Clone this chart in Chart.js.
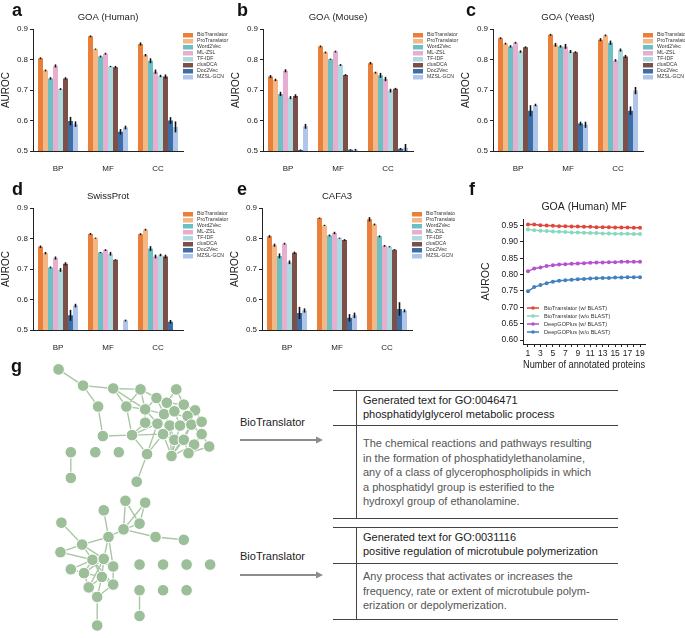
<!DOCTYPE html>
<html lang="en">
<head>
<meta charset="UTF-8">
<title>BioTranslator AUROC panels</title>
<script src="https://cdn.jsdelivr.net/npm/chart.js"></script>
<style>
    body { margin: 0; background: #fff; font-family: 'Liberation Sans', Arial, sans-serif; }
    #fig { position: relative; width: 685px; height: 638px; overflow: hidden; }
    canvas { position: absolute; }
    .letter { position: absolute; font-weight: bold; font-size: 18px; line-height: 1; color: #111; }
    .hline { position: absolute; height: 0; border-top: 1.2px solid #444; left: 333px; width: 285px; }
    .vline { position: absolute; width: 0; border-left: 1.2px solid #444; left: 356px; }
    .head { position: absolute; left: 363px; font-size: 11px; line-height: 14px; color: #1a1a1a; white-space: nowrap; }
    .body { position: absolute; left: 363px; font-size: 11px; line-height: 14.6px; color: #555; white-space: nowrap; }
    .tool { position: absolute; left: 240px; font-size: 11px; color: #222; }
    svg.arrow { position: absolute; left: 238px; }
</style>
</head>
<body>
<div id="fig">
    <canvas id="pa" width="230" height="175" style="left:0;top:0"></canvas>
    <canvas id="pb" width="230" height="175" style="left:230px;top:0"></canvas>
    <canvas id="pc" width="225" height="175" style="left:460px;top:0"></canvas>
    <canvas id="pd" width="229" height="175" style="left:0;top:179px"></canvas>
    <canvas id="pe" width="226" height="175" style="left:229px;top:179px"></canvas>
    <canvas id="pf" width="230" height="186" style="left:455px;top:185px"></canvas>
    <canvas id="pg" width="232" height="283" style="left:0;top:355px"></canvas>

    <div class="letter" style="left:12px;top:1px">a</div>
    <div class="letter" style="left:237px;top:1px">b</div>
    <div class="letter" style="left:466px;top:1px">c</div>
    <div class="letter" style="left:12px;top:180px">d</div>
    <div class="letter" style="left:237px;top:180px">e</div>
    <div class="letter" style="left:469px;top:180px">f</div>
    <div class="letter" style="left:11px;top:357px">g</div>

    <!-- text boxes of panel g -->
    <div class="hline" style="top:390px"></div>
    <div class="vline" style="top:390px;height:128px"></div>
    <div class="head" style="top:393px">Generated text for GO:0046471<br>phosphatidylglycerol metabolic process</div>
    <div class="hline" style="top:425px"></div>
    <div class="body" style="top:436px">The chemical reactions and pathways resulting<br>in the formation of phosphatidylethanolamine,<br>any of a class of glycerophospholipids in which<br>a phosphatidyl group is esterified to the<br>hydroxyl group of ethanolamine.</div>
    <div class="hline" style="top:518px"></div>
    <div class="tool" style="top:416px">BioTranslator</div>
    <svg class="arrow" width="90" height="10" style="top:435px"><line x1="2" y1="5" x2="80" y2="5" stroke="#8c8c8c" stroke-width="2"/><polygon points="78,1.5 85,5 78,8.5" fill="#8c8c8c"/></svg>

    <div class="hline" style="top:527px"></div>
    <div class="vline" style="top:527px;height:92px"></div>
    <div class="head" style="top:530px">Generated text for GO:0031116<br>positive regulation of microtubule polymerization</div>
    <div class="hline" style="top:563px"></div>
    <div class="body" style="top:569px">Any process that activates or increases the<br>frequency, rate or extent of microtubule polym-<br>erization or depolymerization.</div>
    <div class="hline" style="top:619px"></div>
    <div class="tool" style="top:550px">BioTranslator</div>
    <svg class="arrow" width="90" height="10" style="top:570px"><line x1="2" y1="5" x2="80" y2="5" stroke="#8c8c8c" stroke-width="2"/><polygon points="78,1.5 85,5 78,8.5" fill="#8c8c8c"/></svg>
</div>

<script>
    // ---- data ----
    const categories = ['BP', 'MF', 'CC'];
    const methods = ['BioTranslator', 'ProTranslator', 'Word2Vec', 'ML-ZSL', 'TF-IDF', 'clusDCA', 'Doc2Vec', 'MZSL-GCN'];
    const methodColors = ['#e8803c', '#f4b887', '#6bc0c6', '#e8aed0', '#add9e1', '#7c5048', '#3e6ea6', '#afc6ea'];
    const barTicks = [0.5, 0.6, 0.7, 0.8, 0.9];

    // AUROC per category (BP, MF, CC), one value per method
    const goaHuman = [
        [0.804, 0.764, 0.738, 0.779, 0.703, 0.738, 0.598, 0.588],
        [0.876, 0.834, 0.810, 0.819, 0.777, 0.775, 0.563, 0.577],
        [0.851, 0.814, 0.796, 0.760, 0.746, 0.744, 0.600, 0.579]
    ];
    const goaHumanErr = [
        [0.003, 0.003, 0.004, 0.005, 0.003, 0.004, 0.014, 0.009],
        [0.003, 0.002, 0.003, 0.003, 0.002, 0.004, 0.009, 0.006],
        [0.005, 0.004, 0.008, 0.007, 0.004, 0.007, 0.011, 0.018]
    ];
    const goaMouse = [
        [0.744, 0.733, 0.687, 0.763, 0.675, 0.680, 0.503, 0.581],
        [0.843, 0.823, 0.801, 0.826, 0.782, 0.749, 0.504, 0.504],
        [0.788, 0.757, 0.748, 0.736, 0.698, 0.704, 0.507, 0.511]
    ];
    const goaMouseErr = [
        [0.005, 0.004, 0.007, 0.005, 0.005, 0.006, 0.002, 0.008],
        [0.003, 0.003, 0.002, 0.003, 0.003, 0.003, 0.002, 0.003],
        [0.004, 0.003, 0.008, 0.007, 0.006, 0.003, 0.003, 0.012]
    ];
    const goaYeast = [
        [0.870, 0.852, 0.843, 0.855, 0.826, 0.840, 0.632, 0.651],
        [0.881, 0.848, 0.843, 0.843, 0.826, 0.824, 0.590, 0.586],
        [0.865, 0.879, 0.855, 0.797, 0.831, 0.810, 0.632, 0.698]
    ];
    const goaYeastErr = [
        [0.003, 0.003, 0.004, 0.003, 0.004, 0.003, 0.018, 0.004],
        [0.003, 0.006, 0.004, 0.008, 0.005, 0.003, 0.006, 0.010],
        [0.005, 0.003, 0.007, 0.004, 0.005, 0.005, 0.014, 0.012]
    ];
    const swissProt = [
        [0.773, 0.752, 0.705, 0.736, 0.697, 0.717, 0.548, 0.580],
        [0.815, 0.801, 0.754, 0.762, 0.750, 0.730, 0.500, 0.531],
        [0.814, 0.829, 0.767, 0.741, 0.746, 0.741, 0.527, 0.500]
    ];
    const swissProtErr = [
        [0.004, 0.004, 0.003, 0.005, 0.006, 0.005, 0.018, 0.006],
        [0.003, 0.002, 0.002, 0.003, 0.006, 0.002, 0.000, 0.003],
        [0.003, 0.003, 0.008, 0.006, 0.004, 0.006, 0.006, 0.000]
    ];
    const cafa3 = [
        [0.807, 0.778, 0.743, 0.783, 0.722, 0.753, 0.556, 0.564],
        [0.867, 0.843, 0.810, 0.818, 0.801, 0.795, 0.540, 0.548],
        [0.863, 0.846, 0.807, 0.776, 0.773, 0.763, 0.569, 0.563]
    ];
    const cafa3Err = [
        [0.004, 0.005, 0.008, 0.003, 0.006, 0.004, 0.020, 0.007],
        [0.002, 0.002, 0.003, 0.004, 0.002, 0.003, 0.012, 0.009],
        [0.007, 0.003, 0.003, 0.003, 0.002, 0.002, 0.022, 0.005]
    ];

    // panel f
    const annotatedProteins = [1, 2, 3, 4, 5, 6, 7, 8, 9, 10, 11, 12, 13, 14, 15, 16, 17, 18, 19];
    const bioWithBlast = [0.953, 0.953, 0.951, 0.950, 0.949, 0.948, 0.948, 0.947, 0.947, 0.946, 0.946, 0.945, 0.945, 0.945, 0.944, 0.944, 0.944, 0.943, 0.943];
    const bioNoBlast = [0.938, 0.936, 0.934, 0.933, 0.932, 0.931, 0.930, 0.929, 0.929, 0.928, 0.927, 0.927, 0.926, 0.926, 0.925, 0.925, 0.925, 0.924, 0.924];
    const deepWithBlast = [0.810, 0.819, 0.822, 0.826, 0.829, 0.831, 0.832, 0.833, 0.834, 0.835, 0.836, 0.837, 0.837, 0.838, 0.838, 0.839, 0.839, 0.839, 0.839];
    const deepNoBlast = [0.749, 0.762, 0.768, 0.774, 0.778, 0.781, 0.783, 0.784, 0.786, 0.787, 0.788, 0.789, 0.790, 0.790, 0.791, 0.791, 0.792, 0.792, 0.792];
    const lineLabels = ['BioTranslator (w/ BLAST)', 'BioTranslator (w/o BLAST)', 'DeepGOPlus (w/ BLAST)', 'DeepGOPlus (w/o BLAST)'];
    const lineColors = ['#e0473c', '#86d9bf', '#b552d1', '#4181bd'];
    const lineYTicks = [0.60, 0.65, 0.70, 0.75, 0.80, 0.85, 0.90, 0.95];

    // panel g: two gene networks (layout coordinates)
    const netNodes = [
        [55, 8], [81, 25], [113, 28], [142, 29], [97, 47], [127, 47], [147, 50], [147, 64],
        [102, 78], [133, 77], [149, 97], [138, 126], [68, 95], [68, 122], [94, 95], [119, 95],
        [159, 38], [167, 55], [178, 52], [188, 45], [200, 51], [180, 29], [170, 43], [192, 57],
        [173, 67], [184, 67], [196, 66], [207, 63], [160, 65], [166, 76], [178, 82], [188, 82],
        [199, 87], [207, 76], [215, 89], [193, 96], [175, 99],
        [126, 146], [147, 148], [103, 156], [58, 169], [124, 176], [141, 170], [108, 184], [158, 184],
        [188, 187], [80, 192], [57, 200], [91, 208], [103, 207], [68, 218], [82, 222], [113, 215],
        [101, 226], [113, 234], [87, 237], [96, 247], [96, 277],
        [141, 213], [166, 213], [191, 213], [216, 213], [141, 240], [166, 240], [191, 240], [141, 267]
    ];
    const netEdges = [
        [0, 1], [1, 2], [1, 4], [4, 8], [8, 9], [2, 3], [2, 5], [2, 6], [5, 3], [5, 6], [5, 9], [3, 16], [3, 6],
        [6, 16], [6, 17], [6, 7], [7, 9], [7, 28], [9, 29], [9, 10], [9, 28], [10, 11], [10, 29], [10, 28], [12, 13],
        [16, 22], [22, 18], [18, 19], [19, 20], [17, 18], [17, 24], [24, 25], [25, 26], [26, 27], [23, 20], [23, 25],
        [24, 29], [29, 30], [30, 31], [31, 32], [32, 33], [33, 26], [33, 34], [32, 35], [36, 30], [36, 29], [36, 31],
        [36, 25], [36, 24], [36, 26], [35, 31], [28, 24], [28, 17], [16, 17], [21, 19], [21, 22], [6, 28], [29, 25],
        [18, 25], [19, 23], [17, 23], [27, 20], [27, 33], [26, 31], [22, 19], [16, 18], [24, 30], [28, 29], [35, 34], [36, 32],
        [37, 41], [38, 42], [37, 42], [38, 41], [39, 43], [41, 42], [41, 43], [41, 44], [44, 45], [40, 46], [46, 43],
        [47, 46], [47, 48], [46, 48], [46, 49], [43, 49], [43, 52], [48, 49], [48, 51], [48, 53], [48, 52], [49, 52],
        [49, 53], [50, 51], [50, 48], [51, 55], [51, 53], [53, 54], [53, 55], [53, 56], [54, 56], [55, 56], [52, 54],
        [56, 57], [62, 65], [48, 54], [49, 55], [51, 49]
    ];

    Chart.defaults.font.family = "'Liberation Sans', Arial, sans-serif";
    Chart.defaults.color = '#222';

    // black error bars on top of the bars
    const errorBars = {
        id: 'errorBars',
        afterDatasetsDraw(chart, args, opts) {
            if (!opts.errors) return;
            const ctx = chart.ctx, y = chart.scales.y, area = chart.chartArea;
            ctx.save();
            ctx.beginPath();
            ctx.rect(area.left, area.top, area.right - area.left, area.bottom - area.top);
            ctx.clip();
            ctx.strokeStyle = '#111';
            ctx.lineWidth = 1.6;
            chart.data.datasets.forEach((ds, i) => {
                chart.getDatasetMeta(i).data.forEach((bar, j) => {
                    const e = opts.errors[j][i];
                    if (!e) return;
                    const v = ds.data[j];
                    ctx.beginPath();
                    ctx.moveTo(bar.x, y.getPixelForValue(v + e));
                    ctx.lineTo(bar.x, y.getPixelForValue(v - e));
                    ctx.stroke();
                });
            });
            ctx.restore();
        }
    };

    // compact legend next to / inside the plot area
    const sideLegend = {
        id: 'sideLegend',
        afterDraw(chart, args, o) {
            if (!o.display) return;
            const ctx = chart.ctx, a = chart.chartArea;
            ctx.save();
            ctx.font = o.fontSize + "px 'Liberation Sans', Arial, sans-serif";
            ctx.textBaseline = 'middle';
            chart.data.datasets.forEach((ds, i) => {
                const x = (o.fromLeft ? a.left : a.right) + o.dx;
                const y = (o.fromBottom ? a.bottom : a.top) + o.dy + i * o.row;
                const col = o.mode === 'line' ? ds.borderColor : ds.backgroundColor;
                if (o.mode === 'line') {
                    ctx.strokeStyle = col;
                    ctx.lineWidth = 1.5;
                    ctx.beginPath(); ctx.moveTo(x, y); ctx.lineTo(x + 12, y); ctx.stroke();
                    ctx.fillStyle = col;
                    ctx.beginPath(); ctx.arc(x + 6, y, 1.8, 0, Math.PI * 2); ctx.fill();
                    ctx.fillStyle = '#333';
                    ctx.fillText(ds.label, x + 17, y);
                } else {
                    ctx.fillStyle = col;
                    ctx.fillRect(x, y - 2, 10, 4.5);
                    ctx.fillStyle = '#333';
                    ctx.fillText(ds.label, x + 14, y);
                }
            });
            ctx.restore();
        }
    };

    function makeBarChart(id, title, values, errors) {
        const datasets = methods.map((m, i) => ({
            label: m,
            data: categories.map((c, j) => values[j][i]),
            backgroundColor: methodColors[i],
            borderWidth: 0,
            categoryPercentage: 0.8,
            barPercentage: 1.0
        }));
        const canvas = document.getElementById(id);
        new Chart(canvas, {
            type: 'bar',
            data: { labels: categories, datasets },
            plugins: [errorBars, sideLegend],
            options: {
                responsive: false,
                animation: false,
                layout: { padding: { left: 0, top: 12, right: canvas.width - 183, bottom: 4 } },
                plugins: {
                    legend: { display: false },
                    tooltip: { enabled: false },
                    title: {
                        display: true, text: title, fullSize: false,
                        font: { size: 9.5, weight: 'normal' }, color: '#222',
                        padding: { top: 0, bottom: 5.6 }
                    },
                    errorBars: { errors },
                    sideLegend: { display: true, mode: 'box', dx: 0, dy: 6, row: 6, fontSize: 5.2 }
                },
                scales: {
                    x: {
                        grid: { display: false },
                        border: { display: true, color: '#222', width: 1 },
                        ticks: { font: { size: 8 }, color: '#222', padding: 5 },
                        afterFit: s => { s.height = 20; }
                    },
                    y: {
                        min: 0.5, max: 0.9,
                        grid: { drawOnChartArea: false, drawTicks: true, tickLength: 3, color: '#222' },
                        border: { display: true, color: '#222', width: 1 },
                        ticks: { font: { size: 8 }, color: '#222', padding: 2, callback: v => v.toFixed(1) },
                        afterBuildTicks: s => { s.ticks = barTicks.map(v => ({ value: v })); },
                        title: { display: true, text: 'AUROC', font: { size: 10 }, color: '#222', padding: 0 },
                        afterFit: s => { s.width = 33; }
                    }
                }
            }
        });
    }

    makeBarChart('pa', 'GOA (Human)', goaHuman, goaHumanErr);
    makeBarChart('pb', 'GOA (Mouse)', goaMouse, goaMouseErr);
    makeBarChart('pc', 'GOA (Yeast)', goaYeast, goaYeastErr);
    makeBarChart('pd', 'SwissProt', swissProt, swissProtErr);
    makeBarChart('pe', 'CAFA3', cafa3, cafa3Err);

    // panel f: AUROC vs number of annotated proteins
    const lineSeries = [bioWithBlast, bioNoBlast, deepWithBlast, deepNoBlast];
    new Chart(document.getElementById('pf'), {
        type: 'line',
        data: {
            datasets: lineSeries.map((s, i) => ({
                label: lineLabels[i],
                data: annotatedProteins.map((x, k) => ({ x, y: s[k] })),
                borderColor: lineColors[i],
                backgroundColor: lineColors[i],
                borderWidth: 1.5,
                pointRadius: 2,
                pointBorderWidth: 0
            }))
        },
        plugins: [sideLegend],
        options: {
            responsive: false,
            animation: false,
            layout: { padding: { left: 25, top: 16, right: 40, bottom: 0 } },
            plugins: {
                legend: { display: false },
                tooltip: { enabled: false },
                title: {
                    display: true, text: 'GOA (Human) MF', fullSize: false,
                    font: { size: 10.5, weight: 'normal' }, color: '#222',
                    padding: { top: 0, bottom: 5.4 }
                },
                sideLegend: { display: true, mode: 'line', fromLeft: true, fromBottom: true, dx: 4, dy: -36, row: 8, fontSize: 5.6 }
            },
            scales: {
                x: {
                    type: 'linear', min: 0.2, max: 19.8,
                    grid: { drawOnChartArea: false, drawTicks: true, tickLength: 3, color: '#222' },
                    border: { display: true, color: '#222', width: 1 },
                    ticks: { font: { size: 8.5 }, color: '#222', padding: 2, autoSkip: false, maxRotation: 0,
                             callback: v => (v % 2 === 1 ? String(v) : '') },
                    afterBuildTicks: s => { s.ticks = annotatedProteins.map(v => ({ value: v })); },
                    title: { display: true, text: 'Number of annotated proteins', font: { size: 10 }, color: '#222', padding: 0 },
                    afterFit: s => { s.height = 27; }
                },
                y: {
                    min: 0.588, max: 0.97,
                    grid: { drawOnChartArea: false, drawTicks: true, tickLength: 3, color: '#222' },
                    border: { display: true, color: '#222', width: 1 },
                    ticks: { font: { size: 8.5 }, color: '#222', padding: 2, callback: v => v.toFixed(2) },
                    afterBuildTicks: s => { s.ticks = lineYTicks.map(v => ({ value: v })); },
                    title: { display: true, text: 'AUROC', font: { size: 10.5 }, color: '#222', padding: 0 },
                    afterFit: s => { s.width = 43; }
                }
            }
        }
    });

    // panel g: network drawings as a scatter chart with edge segments
    const edgePoints = [];
    netEdges.forEach(([a, b]) => {
        edgePoints.push({ x: netNodes[a][0], y: netNodes[a][1] });
        edgePoints.push({ x: netNodes[b][0], y: netNodes[b][1] });
        edgePoints.push({ x: NaN, y: NaN });
    });
    new Chart(document.getElementById('pg'), {
        type: 'scatter',
        data: {
            datasets: [
                {
                    label: 'edges', type: 'line', data: edgePoints, showLine: true, spanGaps: false,
                    borderColor: '#a9c7a5', borderWidth: 1.4, pointRadius: 0, order: 2
                },
                {
                    label: 'genes', data: netNodes.map(([x, y]) => ({ x, y })),
                    pointRadius: 5.8, backgroundColor: '#9cbf99', borderColor: '#ffffff', pointBorderWidth: 1, order: 1
                }
            ]
        },
        options: {
            responsive: false,
            animation: false,
            layout: { padding: 0 },
            plugins: { legend: { display: false }, tooltip: { enabled: false } },
            scales: {
                x: { type: 'linear', min: 0, max: 232, display: false },
                y: { type: 'linear', min: 0, max: 283, reverse: true, display: false }
            }
        }
    });
</script>
</body>
</html>
